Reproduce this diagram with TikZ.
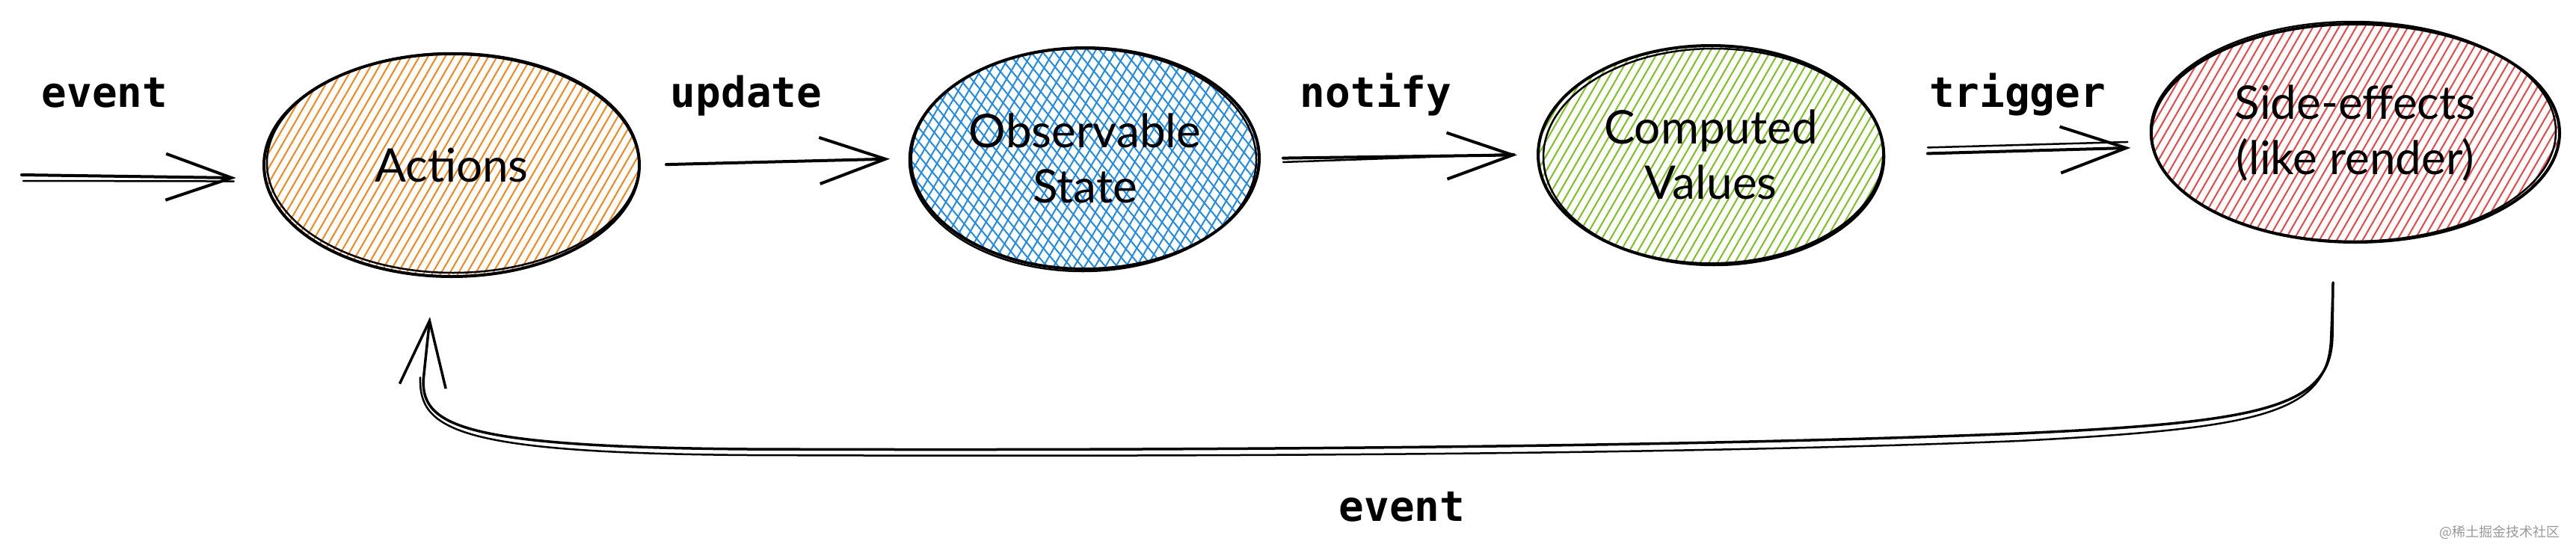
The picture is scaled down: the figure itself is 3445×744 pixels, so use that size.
\documentclass[tikz,border=0pt]{standalone}
\usepackage{fontspec}
\setmainfont{Lato}
\newfontfamily\monofont{DejaVu Sans Mono}
\newfontfamily\cjkfont{Noto Sans CJK SC}
\usetikzlibrary{shapes.geometric, arrows.meta, calc}
\definecolor{hOrange}{HTML}{F7861A}
\definecolor{hBlue}{HTML}{228BE6}
\definecolor{hGreen}{HTML}{7CC21E}
\definecolor{hRed}{HTML}{EE4545}
\newcommand\bubblefont{\fontsize{62}{74}\selectfont}
\newcommand\lblfont{\monofont\bfseries\fontsize{56}{60}\selectfont}
\tikzset{
  bubble/.style={ellipse, draw=black, line width=4pt, inner sep=0pt, font=\bubblefont, align=center, text=black},
  lbl/.style={font=\lblfont, anchor=base, inner sep=0pt},
  arr/.style={line width=4pt, line cap=round, line join=round, -{Straight Barb[length=88pt, width=62pt]}},
  arrthin/.style={line width=2.5pt, line cap=round, line join=round},
  hatch/.style={line width=2pt, line cap=round},
  rough/.style={line width=2.5pt},
}
\begin{document}
\begin{tikzpicture}[x=1pt, y=-1pt]
\useasboundingbox (0,0) rectangle (3445,744);

% hatching
\begin{scope}
  \clip (604,221) ellipse [x radius=251, y radius=149];
  \begin{scope}[shift={(604,221)}, rotate=-30]
    \foreach \k in {-300,-290,...,300} \draw[hatch, hOrange] (\k,-320) -- (\k,320);
  \end{scope}
\end{scope}
\begin{scope}
  \clip (1451,212) ellipse [x radius=233, y radius=148];
  \begin{scope}[shift={(1451,212)}, rotate=-30]
    \foreach \k in {-300,-288,...,300} \draw[hatch, hBlue] (\k,-320) -- (\k,320);
  \end{scope}
  \begin{scope}[shift={(1451,212)}, rotate=40]
    \foreach \k in {-300,-288,...,300} \draw[hatch, hBlue] (\k,-320) -- (\k,320);
  \end{scope}
\end{scope}
\begin{scope}
  \clip (2288,207) ellipse [x radius=231, y radius=146];
  \begin{scope}[shift={(2288,207)}, rotate=-30]
    \foreach \k in {-300,-290,...,300} \draw[hatch, hGreen] (\k,-320) -- (\k,320);
  \end{scope}
\end{scope}
\begin{scope}
  \clip (3150,178) ellipse [x radius=273, y radius=146];
  \begin{scope}[shift={(3150,178)}, rotate=-30]
    \foreach \k in {-300,-290,...,300} \draw[hatch, hRed] (\k,-320) -- (\k,320);
  \end{scope}
\end{scope}

% bubbles
\node[bubble, minimum width=502pt, minimum height=298pt] (act) at (604,221) {Actions};
\node[bubble, minimum width=466pt, minimum height=296pt] (obs) at (1451,212) {Observable\\State};
\node[bubble, minimum width=462pt, minimum height=292pt] (comp) at (2288,207) {Computed\\Values};
\node[bubble, minimum width=546pt, minimum height=292pt] (side) at (3150,178) {Side-effects\\(like render)};

% second rough outlines
\draw[rough] ($(act.center)+(2,-3)$) ellipse [x radius=249, y radius=147];
\draw[rough] ($(obs.center)+(-3,2)$) ellipse [x radius=232, y radius=149];
\draw[rough] ($(comp.center)+(4,3)$) ellipse [x radius=228, y radius=145];
\draw[rough] ($(side.center)+(-3,-2)$) ellipse [x radius=271, y radius=147];

% labels
\node[lbl] (l1) at (140,143) {event};
\node[lbl] (l2) at (998,143) {update};
\node[lbl] (l3) at (1840,143) {notify};
\node[lbl] (l4) at (2698,143) {trigger};
\node[lbl] (l5) at (1875,697) {event};

% arrows
\coordinate (evs) at (29,234);
\draw[arr, shorten >=37pt] (evs) -- (act.184);
\draw[arrthin] ($(evs)+(2,8)$) -- ($(act.184)+(-40,4)$);
\draw[arr, shorten <=34pt, shorten >=26pt] (act.east) -- (obs.west);
\draw[arr, shorten <=30pt, shorten >=26pt] (obs.east) -- (comp.west);
\draw[arrthin, shorten <=30pt, shorten >=30pt] ($(obs.east)+(0,6)$) -- ($(comp.west)+(0,-2)$);
\draw[arr, shorten <=57pt, shorten >=28pt] (comp.east) -- (side.184);
\draw[arrthin, shorten <=57pt, shorten >=32pt] ($(comp.east)+(0,-8)$) -- ($(side.184)+(0,-8)$);

% feedback event arrow
\coordinate (fbs) at (3120,378);
\coordinate (fbe) at (575,424);
\draw[arr, line width=3.5pt] (fbs) -- (3119,450) .. controls (3117,545) and (3030,565) .. (2700,580)
  .. controls (2200,600) and (1500,603) .. (1000,601)
  .. controls (620,598) and (566,570) .. (566,510) -- (fbe);
\draw[arrthin] (fbs) -- (3117,455) .. controls (3112,555) and (3020,573) .. (2700,590)
  .. controls (2200,610) and (1500,611) .. (1000,609)
  .. controls (610,606) and (560,575) .. (562,505);

% watermark
\node[font=\cjkfont\fontsize{18}{20}\selectfont, text=black!40, inner sep=0pt] (wm) at (3343,712) {@稀土掘金技术社区};
\end{tikzpicture}
\end{document}
